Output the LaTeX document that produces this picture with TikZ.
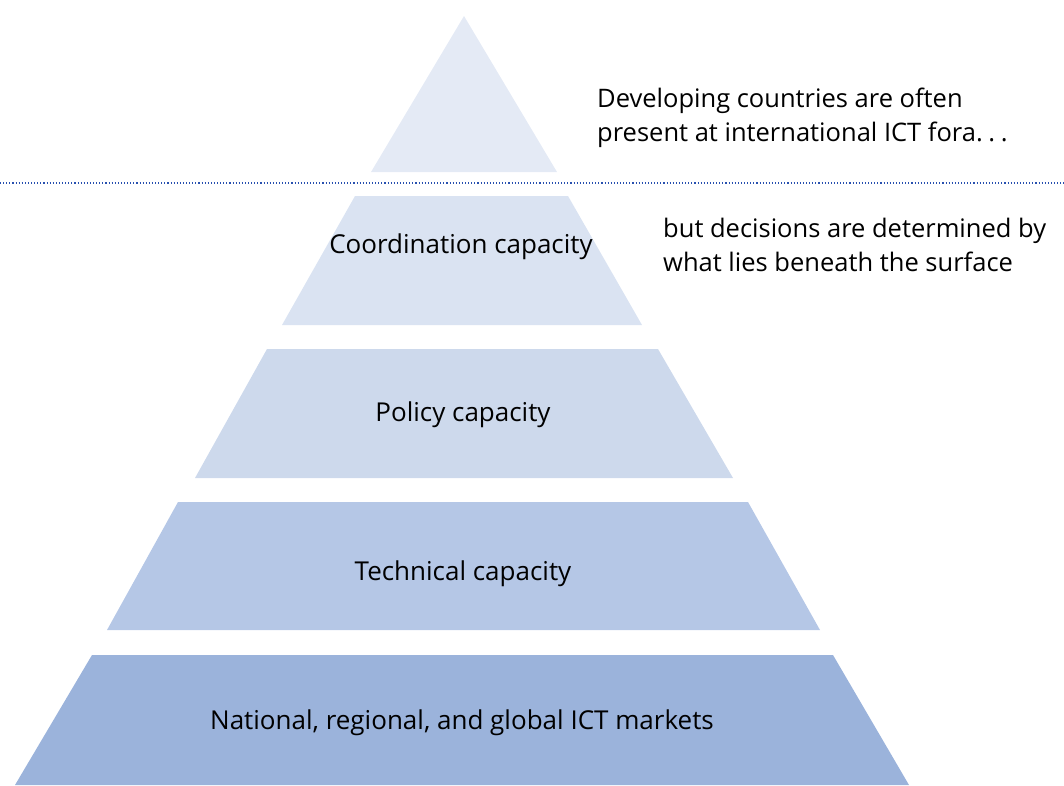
\documentclass[tikz,border=0pt]{standalone}
\usepackage{fontspec}
\setmainfont{Open Sans}
\usepackage{xcolor}
\definecolor{tipblue}{RGB}{228,234,245}
\definecolor{coordblue}{RGB}{218,227,242}
\definecolor{policyblue}{RGB}{205,217,236}
\definecolor{techblue}{RGB}{181,199,230}
\definecolor{marketblue}{RGB}{155,179,219}
\definecolor{surfaceblue}{RGB}{40,80,175}

\begin{document}
\begin{tikzpicture}[
  x=1pt, y=-1pt,
  layertext/.style={font=\fontsize{26}{34}\selectfont, inner sep=0pt},
  sidetext/.style={font=\fontsize{25.5}{34}\selectfont, align=left, anchor=north west, inner sep=0pt}
]
  \useasboundingbox (0,0) rectangle (1064,785);

  % visible tip
  \fill[tipblue] (464,16) -- (557,172) -- (371,172) -- cycle;
  % water line
  \coordinate (surfL) at (0,183);
  \coordinate (surfR) at (1064,183);
  \draw[surfaceblue, line width=1.1pt, dotted] (surfL) -- (surfR);

  % layers beneath
  \fill[coordblue]  (355,196) -- (568,196) -- (642,325) -- (282,325) -- cycle;
  \fill[policyblue] (267,349) -- (658,349) -- (733,478) -- (195,478) -- cycle;
  \fill[techblue]   (178,502) -- (748,502) -- (820,630) -- (107,630) -- cycle;
  \fill[marketblue] (92,655) -- (833,655) -- (909,785) -- (15,785) -- cycle;

  \node[layertext] (coord)  at (461,247) {Coordination capacity};
  \node[layertext] (policy) at (463,415) {Policy capacity};
  \node[layertext] (tech)   at (463,574) {Technical capacity};
  \node[layertext] (market) at (462,723) {National, regional, and global ICT markets};

  \node[sidetext] (above) at (597,88) {Developing countries are often\\present at international ICT fora.\hspace{0.22em}.\hspace{0.22em}.};
  \node[sidetext] (below) at (663,218) {but decisions are determined by\\what lies beneath the surface};
\end{tikzpicture}
\end{document}
